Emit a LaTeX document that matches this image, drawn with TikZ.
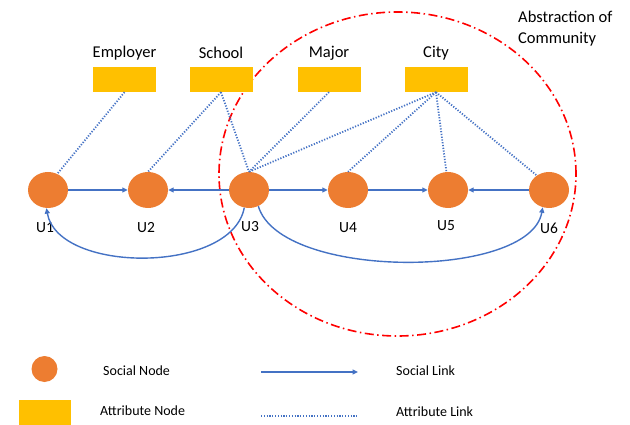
\documentclass[tikz,border=0pt]{standalone}
\usepackage{fontspec}
\setmainfont{Carlito}
\usetikzlibrary{arrows.meta,shapes.geometric}
\definecolor{sorange}{HTML}{ED7D31}
\definecolor{ayellow}{HTML}{FFC000}
\definecolor{lblue}{HTML}{4472C4}
\begin{document}
\begin{tikzpicture}[x=1pt,y=-1pt,
  social/.style={ellipse,fill=sorange,minimum width=40pt,minimum height=36pt,inner sep=0pt},
  attr/.style={rectangle,fill=ayellow,minimum width=63pt,minimum height=25pt,inner sep=0pt},
  lbl/.style={font=\fontsize{15.5}{17}\selectfont,inner sep=0pt},
  albl/.style={font=\fontsize{16.5}{18}\selectfont,inner sep=0pt},
  leg/.style={font=\fontsize{14}{16}\selectfont,inner sep=0pt,anchor=west},
  slink/.style={draw=lblue,line width=1.4pt,-{Triangle[length=5.5pt,width=5pt]}},
  alink/.style={draw=lblue,line width=1.8pt,dash pattern=on 1.2pt off 1.6pt},
  comm/.style={draw=red,line width=1.6pt,dash pattern=on 9pt off 3.5pt on 1.5pt off 3.5pt}]
\useasboundingbox (0,0) rectangle (630,425);
% community ellipse
\node[comm,ellipse,minimum width=357pt,minimum height=324pt,inner sep=0pt] (comm) at (397.5,174) {};
\node[font=\fontsize{16.5}{21}\selectfont,align=left,anchor=north west,inner sep=0pt] (abs) at (518,11) {Abstraction of\\Community};
% social nodes
\node[social] (u1) at (48,190) {};
\node[social] (u2) at (148,190) {};
\node[social] (u3) at (249,190) {};
\node[social] (u4) at (348,190) {};
\node[social] (u5) at (448,190) {};
\node[social] (u6) at (549,190) {};
\node[lbl] (l1) at (45,228) {U1};
\node[lbl] (l2) at (146,228) {U2};
\node[lbl] (l3) at (250,227) {U3};
\node[lbl] (l4) at (348,228) {U4};
\node[lbl] (l5) at (446,226) {U5};
\node[lbl] (l6) at (549,228) {U6};
% attribute nodes
\node[attr] (emp) at (124.5,79.5) {};
\node[attr] (sch) at (221,79.5) {};
\node[attr] (maj) at (329,79.5) {};
\node[attr] (city) at (436,79.5) {};
\node[albl] (temp) at (124.5,53) {Employer};
\node[albl] (tsch) at (221,53) {School};
\node[albl] (tmaj) at (329,53) {Major};
\node[albl] (tcity) at (436,53) {City};
% attribute links
\draw[alink] (emp.south) -- (u1.60);
\draw[alink] (sch.south) -- (u2.north);
\draw[alink] (sch.south) -- (u3.north);
\draw[alink] (maj.south) -- (u3.north);
\draw[alink] (city.south) -- (u3.north);
\draw[alink] (city.south) -- (u4.north);
\draw[alink] (city.south) -- (u5.95);
\draw[alink] (city.south) -- (u6.130);
% social links
\draw[slink] (u1.east) -- (u2.west);
\draw[slink] (u3.west) -- (u2.east);
\draw[slink] (u3.east) -- (u4.west);
\draw[slink] (u4.east) -- (u5.west);
\draw[slink] (u6.west) -- (u5.east);
\draw[slink] (u3.-105) .. controls (232,274) and (58,274) .. (u1.-95);
\draw[slink] (u3.-60) .. controls (280,280) and (530,280) .. (u6.-110);
% legend
\node[circle,fill=sorange,minimum size=26pt,inner sep=0pt] (lsoc) at (44.5,369) {};
\node[rectangle,fill=ayellow,minimum width=52pt,minimum height=25pt,inner sep=0pt] (latt) at (45,412.5) {};
\node[leg] (tsoc) at (103,371) {Social Node};
\node[leg] (tatt) at (100,411) {Attribute Node};
\coordinate (sa) at (261,372);
\coordinate (sb) at (358,372);
\draw[slink] (sa) -- (sb);
\coordinate (aa) at (261,416);
\coordinate (ab) at (358,416);
\draw[alink] (aa) -- (ab);
\node[leg] (tsl) at (396,371) {Social Link};
\node[leg] (tal) at (396,412) {Attribute Link};
\end{tikzpicture}
\end{document}
